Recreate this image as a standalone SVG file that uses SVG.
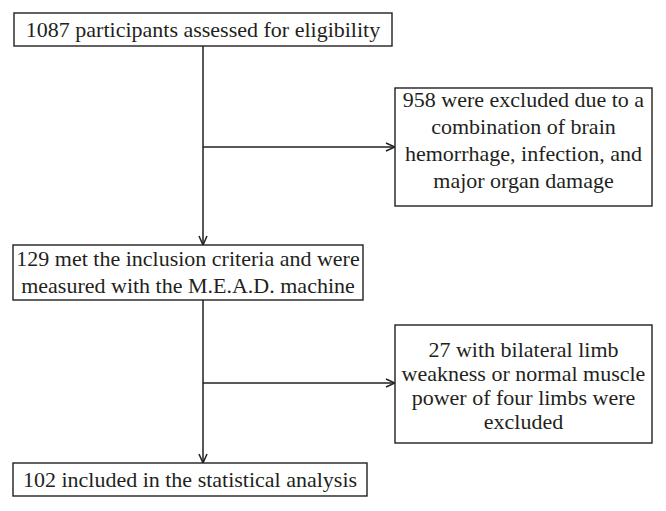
<svg xmlns="http://www.w3.org/2000/svg" width="666" height="511" viewBox="0 0 666 511">
<style>
.box{fill:#fff;stroke:#231f20;stroke-width:1.4}
.t{font-family:"Liberation Serif","Times New Roman",serif;font-size:22px;fill:#231f20;text-anchor:middle}
.c{fill:none;stroke:#231f20;stroke-width:1.5}
</style>
<defs>
<marker id="ah" viewBox="0 0 10 10" refX="10" refY="5" markerWidth="10" markerHeight="10" markerUnits="userSpaceOnUse" orient="auto">
<path d="M1,1 L10,5 L1,9" fill="none" stroke="#231f20" stroke-width="1.5"/>
</marker>
</defs>
<rect width="666" height="511" fill="#fff"/>
<g id="connectors">
<line class="c" x1="203" y1="46" x2="203" y2="245" marker-end="url(#ah)"/>
<line class="c" x1="203" y1="147" x2="395" y2="147" marker-end="url(#ah)"/>
<line class="c" x1="203" y1="300" x2="203" y2="463" marker-end="url(#ah)"/>
<line class="c" x1="203" y1="383" x2="395" y2="383" marker-end="url(#ah)"/>
</g>
<g id="n1">
<rect class="box" x="14" y="13" width="378" height="33"/>
<text class="t" x="203" y="36.5">1087 participants assessed for eligibility</text>
</g>
<g id="n2">
<rect class="box" x="395" y="88" width="257" height="118"/>
<text class="t" x="523.5" y="107">958 were excluded due to a</text>
<text class="t" x="523.5" y="134">combination of brain</text>
<text class="t" x="523.5" y="161">hemorrhage, infection, and</text>
<text class="t" x="523.5" y="188">major organ damage</text>
</g>
<g id="n3">
<rect class="box" x="13" y="245" width="350" height="55"/>
<text class="t" x="188" y="266">129 met the inclusion criteria and were</text>
<text class="t" x="188" y="293">measured with the M.E.A.D. machine</text>
</g>
<g id="n4">
<rect class="box" x="395" y="325" width="257" height="118"/>
<text class="t" x="523.5" y="357">27 with bilateral limb</text>
<text class="t" x="523.5" y="381">weakness or normal muscle</text>
<text class="t" x="523.5" y="405">power of four limbs were</text>
<text class="t" x="523.5" y="429">excluded</text>
</g>
<g id="n5">
<rect class="box" x="13" y="463" width="354" height="33"/>
<text class="t" x="190" y="486.5">102 included in the statistical analysis</text>
</g>
</svg>
